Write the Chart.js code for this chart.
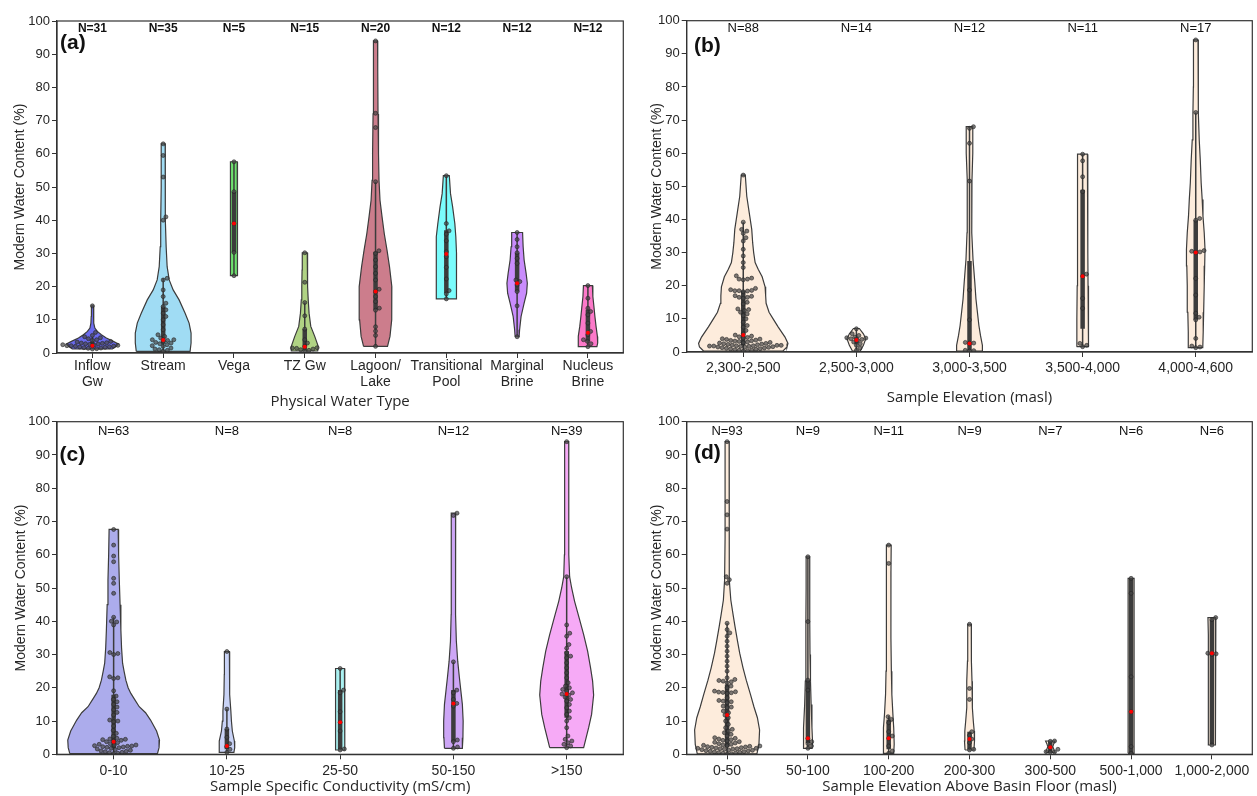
<!DOCTYPE html>
<html>
<head>
<meta charset="utf-8">
<script src="https://cdn.jsdelivr.net/npm/chart.js@4.4.1/dist/chart.umd.min.js"></script>
<style>
  html, body { margin: 0; padding: 0; background: #fff; overflow: hidden; width: 1257px; height: 796px; position: relative; }
  canvas { position: absolute; }
</style>
</head>
<body>
<canvas id="chartA" width="628" height="411" style="left:0px;top:0px"></canvas>
<canvas id="chartB" width="627" height="407" style="left:630px;top:0px"></canvas>
<canvas id="chartC" width="628" height="396" style="left:0px;top:400px"></canvas>
<canvas id="chartD" width="627" height="396" style="left:630px;top:400px"></canvas>
<script>
// ---- (a) Physical water type ----
const aCats = [['Inflow', 'Gw'], 'Stream', 'Vega', 'TZ Gw', ['Lagoon/', 'Lake'], ['Transitional', 'Pool'], ['Marginal', 'Brine'], ['Nucleus', 'Brine']];
const aN = [31, 35, 5, 15, 20, 12, 12, 12];
const aPoints = [
  [14.2, 6.2, 5.3, 4.9, 4.6, 4.3, 4.0, 3.8, 3.5, 3.3, 3.1, 2.9, 2.8, 2.6, 2.5, 2.4, 2.3, 2.2, 2.2, 2.1, 2.0, 1.9, 1.8, 1.7, 1.6, 1.5, 1.4, 1.3, 1.2, 2.7, 3.0],
  [63, 59.5, 53, 41, 40, 22.5, 22, 19, 17, 15, 14, 13, 12, 11, 10, 8.5, 7, 5.5, 5, 4.5, 4, 4, 3.8, 3.5, 3.2, 3, 2.8, 2.5, 2.2, 2, 1.5, 1.2, 1, 0.8, 0.5],
  [57.6, 48.6, 39, 30.3, 23.3],
  [30.2, 21.3, 15.2, 11.2, 7.2, 4.0, 3.0, 2.0, 1.6, 1.5, 1.4, 1.2, 1.0, 0.8, 0.6],
  [94, 72.2, 67.9, 51.6, 30.8, 30, 28, 26, 24, 22, 19.2, 18.5, 17, 15.5, 13.5, 12.9, 7.9, 6.6, 5.3, 2],
  [53.4, 39, 36.8, 35.8, 33.8, 30.5, 29, 25.8, 22.3, 18.8, 17.8, 16.3],
  [36.3, 34.2, 32, 30.2, 28.5, 27, 22, 21.5, 20.5, 18.5, 14.2, 4.9],
  [20.3, 16.5, 13.5, 12.5, 11.5, 9, 6.5, 5.5, 4, 3.5, 2.8, 1.9]
];
// violin outline: value levels and half width (in category units)
const aShapeY = [
  [1.2, 2, 2.7, 3.5, 4.5, 5.5, 6.5, 7.5, 9, 11, 14.2],
  [0.5, 3, 6, 9, 12, 16, 19, 22, 26, 32, 40, 50, 58, 63],
  [23.3, 30, 40, 50, 57.6],
  [0.6, 2, 5, 8, 12, 16, 20, 25, 30.2],
  [2, 5, 10, 15, 20, 26, 31, 36, 41, 46, 52, 60, 72, 85, 94],
  [16.3, 20, 25, 30, 35, 39, 44, 48, 53.4],
  [4.9, 7, 11, 15, 18, 21, 24, 28, 32, 36.3],
  [1.9, 3, 5, 8, 11, 14, 17, 20.3]
];
const aShapeW = [
  [0.282, 0.338, 0.366, 0.296, 0.197, 0.127, 0.070, 0.035, 0.021, 0.017, 0.014],
  [0.380, 0.394, 0.394, 0.366, 0.310, 0.225, 0.141, 0.085, 0.056, 0.042, 0.035, 0.028, 0.028, 0.028],
  [0.046, 0.051, 0.051, 0.051, 0.046],
  [0.183, 0.190, 0.141, 0.085, 0.061, 0.049, 0.042, 0.038, 0.035],
  [0.169, 0.204, 0.225, 0.232, 0.230, 0.197, 0.162, 0.123, 0.092, 0.063, 0.049, 0.042, 0.035, 0.031, 0.028],
  [0.141, 0.144, 0.145, 0.144, 0.134, 0.120, 0.089, 0.059, 0.042],
  [0.028, 0.035, 0.056, 0.099, 0.134, 0.144, 0.127, 0.099, 0.085, 0.077],
  [0.127, 0.138, 0.134, 0.115, 0.099, 0.085, 0.070, 0.063]
];
// [q1, q3, whisker low, whisker high]
const aBox = [[1.7, 3.5, 1.2, 4.9], [2.8, 14, 0.5, 22.5], [30.3, 48.6, 23.3, 57.6], [1.0, 7.2, 0.6, 15.2],
  [13, 30.5, 2, 51.6], [18, 37, 16.3, 53.4], [18.5, 30.2, 4.9, 36.3], [3.5, 13, 1.9, 20.3]];
const aMarks = [2.2, 3.9, 39, 1.9, 18.5, 29.8, 21, 6.1];
const aColors = ['#6b6bee', '#a0dcf4', '#6ee06e', '#b0d384', '#cc7d8c', '#7afcfc', '#c98cfc', '#fc79c9'];

// ---- (b) Sample elevation ----
const bCats = ['2,300-2,500', '2,500-3,000', '3,000-3,500', '3,500-4,000', '4,000-4,600'];
const bN = [88, 14, 12, 11, 17];
const bPoints = [
  [53.4, 39.2, 37, 36.5, 35.8, 34.5, 33.5, 31, 29, 27, 25.5,
   23, 22.3, 22, 22, 21.8, 19.2, 18.8, 18.6, 18.5, 18.5, 18.4, 18.2, 17, 16.8, 16.5, 16.5, 16.2, 15, 14.5, 13, 12.8, 12.5, 12, 11.5, 11,
   10, 9, 8, 7.5, 6.5, 5.5, 5.1,
   4.8, 4.6, 4.4, 4.2, 4.0, 3.9, 3.8, 3.6, 3.5, 3.4, 3.3, 3.2, 3.0, 2.9, 2.8, 2.7, 2.6, 2.5, 2.4, 2.3, 2.2, 2.1, 2.0, 2.0, 1.9,
   1.9, 1.8, 1.8, 1.7, 1.7, 1.6, 1.5, 1.5, 1.4, 1.3, 1.2, 1.1, 1.0, 0.9, 0.8, 0.7, 0.6, 0.5, 0.4, 0.3],
  [7, 5.5, 5, 4.5, 4.3, 4.2, 4.0, 3.8, 3.5, 3.0, 2.5, 2.0, 1.2, 0.5],
  [68, 67.5, 63, 51.6, 18.7, 9.7, 2.9, 2.7, 2.6, 0.5, 0.4, 0.3],
  [59.7, 57.7, 52.9, 48.4, 23.5, 22.9, 16.2, 13.2, 2.6, 2.0, 1.6],
  [94.2, 72.3, 40.3, 39.8, 30.6, 30.4, 30.2, 30, 22.2, 17.2, 11.7, 10.5, 9.7, 4.1, 1.8, 1.5, 1.3]
];
const bShapeY = [
  [0.3, 1.5, 2.6, 4.5, 7.6, 10, 12, 14.7, 17, 19.7, 22.7, 25, 27, 30, 33, 37, 42, 47, 53.4],
  [0.3, 2, 4, 5.5, 7.1],
  [0.3, 2, 5, 8, 12, 16, 21, 28, 36, 45, 52, 60, 68],
  [1.6, 10, 20, 30, 40, 50, 59.7],
  [1.3, 6, 12, 20, 26, 31, 36, 41, 46, 51, 58, 64, 72, 80, 94.2]
];
const bShapeW = [
  [0.351, 0.387, 0.395, 0.369, 0.308, 0.264, 0.228, 0.202, 0.198, 0.193, 0.167, 0.132, 0.105, 0.092, 0.083, 0.075, 0.053, 0.031, 0.018],
  [0.035, 0.062, 0.083, 0.062, 0.026],
  [0.114, 0.114, 0.097, 0.083, 0.070, 0.057, 0.047, 0.031, 0.022, 0.018, 0.022, 0.029, 0.029],
  [0.053, 0.051, 0.048, 0.047, 0.047, 0.044, 0.042],
  [0.062, 0.066, 0.070, 0.075, 0.079, 0.082, 0.075, 0.064, 0.057, 0.048, 0.040, 0.031, 0.025, 0.021, 0.020]
];
const bBox = [[2.0, 18.5, 0.3, 39.2], [2.5, 4.5, 0.5, 7], [0.5, 27.5, 0.3, 68], [7, 49, 1.6, 59.7], [9.7, 39.8, 1.3, 72.3]];
const bMarks = [5.1, 3.6, 2.6, 22.9, 30];

// ---- (c) Specific conductivity ----
const cCats = ['0-10', '10-25', '25-50', '50-150', '>150'];
const cN = [63, 8, 8, 12, 39];
const cPoints = [
  [67.6, 62.9, 59.6, 57.9, 52.9, 51.4, 48.4, 41.2, 40, 39.8, 38.9, 30.6, 30.3, 30, 23.3, 23, 22.8,
   19.1, 17.5, 16.5, 15.8, 15, 14.2, 13.4, 12.6, 11.8, 10.3, 10, 9.8, 8.5, 7.2, 6.3, 5.4,
   4.8, 4.6, 4.5, 4.4, 4.2, 4.0, 3.8, 3.5, 3.2, 3.0, 2.8, 2.7, 2.6, 2.5, 2.4, 2.3, 2.2, 2.1, 2.0, 1.8,
   1.6, 1.4, 1.2, 1.0, 0.9, 0.8, 0.6, 0.5, 0.3, 0.2],
  [30.9, 13.6, 7.6, 5.1, 3.2, 2.3, 1.5, 0.6],
  [25.8, 19.3, 18.5, 12.8, 9.6, 7, 1.6, 1.3],
  [72.5, 71.8, 27.8, 19.3, 18.5, 16.5, 15.3, 14.5, 4.3, 3.8, 2.2, 1.8],
  [94, 53.4, 38.9, 36.4, 35.5, 33, 31.9, 30.5, 29, 27.5, 26, 24.5, 23, 21.5, 20.5, 20, 19.5, 19, 18.5, 18.1,
   17.8, 17.2, 16.5, 16, 15, 14, 13, 12, 11, 10, 8, 5.5, 4.5, 4, 3.5, 3, 2.5, 2, 29.5]
];
const cShapeY = [
  [0.2, 2, 4.3, 7, 10.3, 12.5, 14.3, 16.5, 18.3, 20, 22.3, 25, 27.4, 32, 37.4, 45, 52.4, 60, 67.6],
  [0.6, 2, 4, 7, 10, 13, 18, 24, 30.9],
  [1.3, 6, 12, 18, 25.8],
  [1.8, 5, 10, 15, 19, 23, 28, 34, 42, 55, 65, 72.5],
  [2, 5, 8, 12, 17.8, 22, 26, 31, 36, 41, 46, 50, 53.4, 60, 70, 80, 94]
];
const cShapeW = [
  [0.387, 0.401, 0.405, 0.379, 0.326, 0.282, 0.226, 0.185, 0.152, 0.128, 0.108, 0.092, 0.079, 0.070, 0.064, 0.057, 0.050, 0.044, 0.040],
  [0.062, 0.069, 0.066, 0.048, 0.040, 0.035, 0.026, 0.023, 0.022],
  [0.040, 0.042, 0.042, 0.040, 0.038],
  [0.079, 0.084, 0.086, 0.079, 0.066, 0.053, 0.038, 0.026, 0.020, 0.018, 0.019, 0.020],
  [0.150, 0.172, 0.194, 0.220, 0.238, 0.229, 0.211, 0.185, 0.150, 0.110, 0.070, 0.044, 0.026, 0.020, 0.018, 0.018, 0.018]
];
const cBox = [[1.8, 17.9, 0.2, 41.2], [1.5, 7.6, 0.6, 13.6], [1.5, 19.3, 1.3, 25.8], [3.8, 19.3, 1.8, 27.8], [11, 31, 2, 53.4]];
const cMarks = [3.8, 2.5, 9.6, 15.3, 18.1];
const cColors = ['#acacec', '#c9d3f6', '#aaf1f1', '#cda6f6', '#f6aaf6'];

// ---- (d) Elevation above basin floor ----
const dCats = ['0-50', '50-100', '100-200', '200-300', '300-500', '500-1,000', '1,000-2,000'];
const dN = [93, 9, 11, 9, 7, 6, 6];
const dPoints = [
  [94, 76, 72, 67.7, 53.4, 52.5, 51.4,
   39.4, 37.5, 36.5, 35.5, 34, 32.5, 31, 29.5, 28, 26.5, 25,
   23, 22.5, 22.2, 22, 21.8, 21.5, 20.5, 20, 19, 18.8, 18.7, 18.6, 18.5, 18.3, 17, 16.2, 16, 15.8, 15.5, 14.5, 14.2, 14, 13, 12.5, 11.8, 11,
   10, 9, 8, 7.5, 7, 6.5, 6, 5.5, 5,
   4.8, 4.6, 4.4, 4.2, 4.0, 3.8, 3.6, 3.4, 3.2, 3.0, 2.8, 2.7, 2.6, 2.5, 2.4, 2.3, 2.2, 2.1, 2.0, 1.9,
   1.8, 1.8, 1.7, 1.7, 1.6, 1.5, 1.4, 1.3, 1.2, 1.1, 1.0, 0.9, 0.8, 0.7, 0.6, 0.5, 0.4, 0.3, 0.2, 0.1],
  [59.4, 39.9, 22.3, 19.3, 4.8, 3.8, 3.2, 2.5, 1.8],
  [62.9, 57.4, 11.3, 10.5, 9.5, 6.8, 5.5, 4.8, 2.5, 1.0, 0.3],
  [39.1, 19.8, 16.5, 6.8, 5.7, 4.6, 3.5, 1.5, 1.3],
  [4.0, 3.9, 2.1, 1.5, 0.8, 0.7, 0.6],
  [52.9, 48.4, 23.3, 12.8, 2.3, 0.3],
  [41.1, 40.5, 30.4, 30.2, 30, 2.8]
];
const dShapeY = [
  [0.1, 3, 7.3, 11, 14.3, 18, 22.3, 26, 30.4, 34, 38.4, 42, 46.4, 52.4, 65, 80, 94],
  [1.8, 3.5, 8, 15, 22, 30, 40, 50, 59.4],
  [0.3, 3, 8, 12, 18, 25, 35, 45, 55, 62.9],
  [1.3, 4, 7, 10, 14, 18, 22, 28, 34, 39.1],
  [0.6, 1.5, 2.3, 3.2, 4.0],
  [0.3, 10, 25, 40, 52.9],
  [2.8, 10, 20, 30, 36, 41.1]
];
const dShapeW = [
  [0.369, 0.394, 0.402, 0.375, 0.332, 0.289, 0.237, 0.197, 0.156, 0.129, 0.098, 0.074, 0.046, 0.031, 0.025, 0.025, 0.025],
  [0.052, 0.058, 0.050, 0.040, 0.032, 0.026, 0.024, 0.022, 0.022],
  [0.062, 0.068, 0.062, 0.052, 0.039, 0.033, 0.028, 0.027, 0.028, 0.031],
  [0.055, 0.062, 0.058, 0.047, 0.034, 0.037, 0.031, 0.025, 0.022, 0.022],
  [0.058, 0.043, 0.031, 0.043, 0.058],
  [0.037, 0.037, 0.037, 0.037, 0.037],
  [0.043, 0.043, 0.043, 0.043, 0.047, 0.049]
];
const dBox = [[2.2, 21, 0.1, 39.4], [3.4, 22.3, 1.8, 59.4], [1.5, 10.5, 0.3, 11.5], [1.5, 6.8, 1.3, 6.8],
  [0.7, 3.9, 0.6, 4.0], [0.3, 52.9, 0.3, 52.9], [3, 40.5, 2.8, 41.1]];
const dMarks = [11.8, 4.8, 4.8, 4.6, 2.1, 12.8, 30.4];

const PEACH = '#fdecdc';
const EDGE = '#3c3c3c';
const TXT = '#262626';
const ARIAL = '"Liberation Sans", Arial, sans-serif';
const PX_PER_PCT = 3.32;

// beeswarm offsets (pixel layout) turned back into category units
function swarm(values, center, pxCat, r) {
  const d = 2 * r;
  const placed = [];
  values.slice().sort((a, b) => a - b).forEach(v => {
    const y = v * PX_PER_PCT;
    const near = placed.filter(p => Math.abs(p.y - y) < d);
    const cands = [0];
    near.forEach(p => {
      const dx = Math.sqrt(d * d - (p.y - y) * (p.y - y));
      cands.push(p.x + dx, p.x - dx);
    });
    cands.sort((a, b) => Math.abs(a) - Math.abs(b));
    let best = 0;
    for (const c of cands) {
      if (near.every(p => (p.x - c) * (p.x - c) + (p.y - y) * (p.y - y) >= d * d - 0.01)) { best = c; break; }
    }
    placed.push({x: best, y});
  });
  return placed.map(p => ({x: center + p.x / pxCat, y: p.y / PX_PER_PCT}));
}

const panelText = {
  id: 'panelText',
  afterDraw(chart, args, o) {
    const {ctx, chartArea: a} = chart;
    const x = chart.scales.x;
    ctx.save();
    ctx.strokeStyle = '#333';
    ctx.lineWidth = 1.2;
    ctx.strokeRect(a.left, a.top, a.right - a.left, a.bottom - a.top);
    ctx.fillStyle = '#111';
    ctx.textAlign = 'center';
    ctx.textBaseline = 'middle';
    ctx.font = o.nFont;
    o.counts.forEach((n, i) => ctx.fillText('N=' + n, x.getPixelForValue(i), a.top + o.nDy));
    ctx.font = 'bold 21px ' + ARIAL;
    ctx.textAlign = 'left';
    ctx.fillText(o.tag, a.left + o.tagDx, a.top + o.tagDy);
    ctx.restore();
  }
};

function makeChart(id, p) {
  const datasets = [];
  p.cats.forEach((c, i) => {
    const ys = p.shapeY[i], ws = p.shapeW[i];
    const left = ys.map((y, k) => ({x: i - ws[k], y}));
    const right = ys.map((y, k) => ({x: i + ws[k], y})).reverse();
    datasets.push({type: 'line', data: left.concat(right, [left[0]]), fill: 'shape',
      backgroundColor: p.colors[i], borderColor: EDGE, borderWidth: 1.2, pointRadius: 0, tension: 0, order: 4});
    const b = p.box[i];
    datasets.push({type: 'line', data: [{x: i, y: b[2]}, {x: i, y: b[3]}], borderColor: EDGE,
      borderWidth: 1.5, pointRadius: 0, fill: false, order: 3});
    datasets.push({type: 'line', data: [{x: i, y: b[0]}, {x: i, y: b[1]}], borderColor: EDGE,
      borderWidth: 4.5, borderCapStyle: 'butt', pointRadius: 0, fill: false, order: 2});
  });
  const pts = [];
  p.points.forEach((vals, i) => pts.push(...swarm(vals, i, p.pxCat, 2.15)));
  datasets.push({type: 'scatter', data: pts, pointRadius: 2.0, backgroundColor: 'rgba(70,70,70,0.7)',
    borderColor: 'rgba(35,35,35,0.85)', borderWidth: 0.7, order: 1});
  datasets.push({type: 'scatter', data: p.marks.map((v, i) => ({x: i, y: v})), pointRadius: 2,
    backgroundColor: '#ff0000', borderWidth: 0, order: 0});

  return new Chart(document.getElementById(id), {
    type: 'scatter',
    data: {datasets},
    options: {
      responsive: false,
      animation: false,
      devicePixelRatio: 1,
      layout: {padding: p.pad},
      plugins: {
        legend: {display: false},
        tooltip: {enabled: false},
        panelText: {counts: p.counts, nFont: p.nFont, nDy: p.nDy, tag: p.tag, tagDx: p.tagDx, tagDy: p.tagDy}
      },
      scales: {
        x: {
          type: 'linear',
          min: -0.5,
          max: p.cats.length - 0.5,
          afterBuildTicks: s => { s.ticks = p.cats.map((c, i) => ({value: i})); },
          afterFit: s => { s.height = p.xH; },
          ticks: {autoSkip: false, maxRotation: 0, padding: p.xTickPad, color: TXT,
            font: {family: ARIAL, size: 14, lineHeight: 1.15}, callback: (v, i) => p.cats[i]},
          grid: {drawOnChartArea: false, tickLength: 5, color: '#333'},
          border: {color: '#333', width: 1.2},
          title: {display: true, text: p.xTitle, color: TXT, padding: 0,
            font: {family: '"Open Sans", sans-serif', size: 15, lineHeight: 1.2}}
        },
        y: {
          min: 0,
          max: 100,
          afterFit: s => { s.width = p.yW; },
          ticks: {stepSize: 10, padding: 2, color: TXT, font: {family: ARIAL, size: 13}},
          grid: {drawOnChartArea: false, tickLength: 5, color: '#333'},
          border: {color: '#333', width: 1.2},
          title: {display: true, text: 'Modern Water Content (%)', color: TXT,
            padding: {top: p.yTitlePad, bottom: 0}, font: {family: ARIAL, size: 14, lineHeight: 1.2}}
        }
      }
    },
    plugins: [panelText]
  });
}

makeChart('chartA', {cats: aCats, counts: aN, points: aPoints, shapeY: aShapeY, shapeW: aShapeW, box: aBox,
  marks: aMarks, colors: aColors, pxCat: 71, pad: {left: 0, top: 21, right: 3, bottom: 0}, yW: 57, xH: 58,
  xTickPad: 0, yTitlePad: 11.6, xTitle: 'Physical Water Type', nFont: 'bold 12px ' + ARIAL, nDy: 7.5,
  tag: '(a)', tagDx: 3, tagDy: 22});
makeChart('chartB', {cats: bCats, counts: bN, points: bPoints, shapeY: bShapeY, shapeW: bShapeW, box: bBox,
  marks: bMarks, colors: bCats.map(() => PEACH), pxCat: 113.8, pad: {left: 0, top: 20.7, right: 1, bottom: 0}, yW: 56.7, xH: 55,
  xTickPad: 3, yTitlePad: 19.1, xTitle: 'Sample Elevation (masl)', nFont: '13px ' + ARIAL, nDy: 7.5,
  tag: '(b)', tagDx: 7.3, tagDy: 26});
makeChart('chartC', {cats: cCats, counts: cN, points: cPoints, shapeY: cShapeY, shapeW: cShapeW, box: cBox,
  marks: cMarks, colors: cColors, pxCat: 113.6, pad: {left: 0, top: 21.7, right: 3, bottom: 0}, yW: 57, xH: 41.7,
  xTickPad: 4, yTitlePad: 12.6, xTitle: 'Sample Specific Conductivity (mS/cm)', nFont: '13px ' + ARIAL, nDy: 10,
  tag: '(c)', tagDx: 2.6, tagDy: 33.3});
makeChart('chartD', {cats: dCats, counts: dN, points: dPoints, shapeY: dShapeY, shapeW: dShapeW, box: dBox,
  marks: dMarks, colors: dCats.map(() => PEACH), pxCat: 81.3, pad: {left: 0, top: 21.7, right: 1, bottom: 0}, yW: 56.7, xH: 41.7,
  xTickPad: 4, yTitlePad: 19.1, xTitle: 'Sample Elevation Above Basin Floor (masl)', nFont: '13px ' + ARIAL, nDy: 10,
  tag: '(d)', tagDx: 7.3, tagDy: 31.6});
</script>
</body>
</html>
